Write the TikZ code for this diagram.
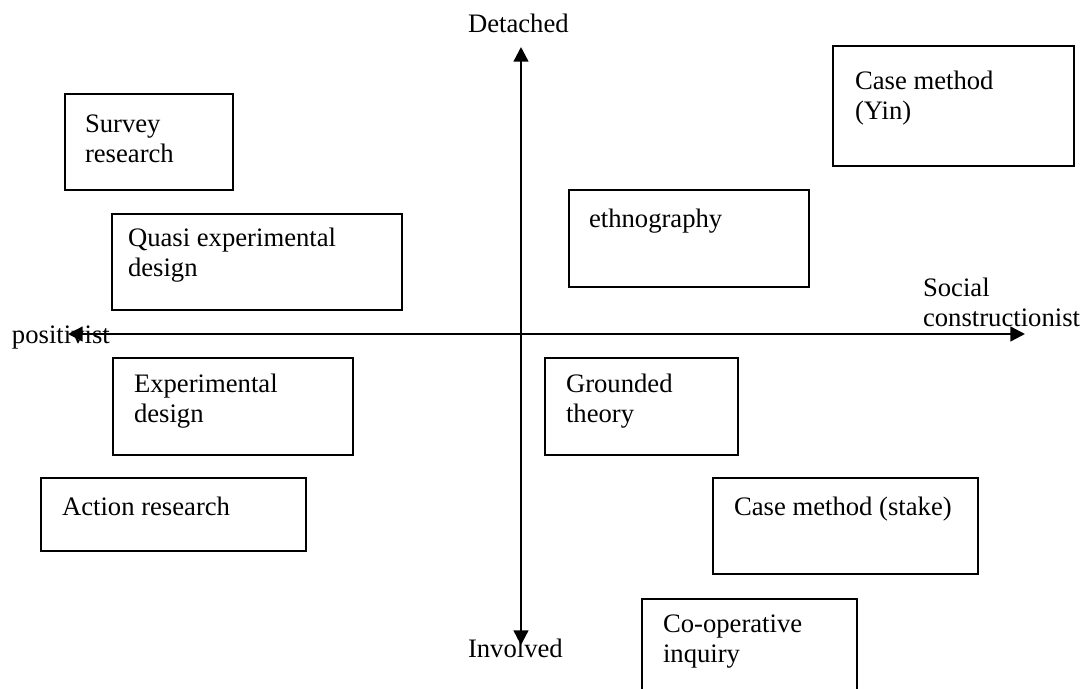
\documentclass[tikz,border=0pt]{standalone}
\usepackage{fontspec}
\setmainfont{Liberation Serif}
\usetikzlibrary{arrows.meta}
\begin{document}
\begin{tikzpicture}[x=0.75pt, y=-0.75pt,
  frame/.style={draw=black, line width=1.1pt},
  axis/.style={draw=black, line width=1.8pt,
    {Triangle[length=11pt,width=11pt]}-{Triangle[length=11pt,width=11pt]}},
  txt/.style={anchor=base west, inner sep=0pt, outer sep=0pt,
    font=\fontsize{20pt}{22.5pt}\selectfont},
]
\clip (0,0) rectangle (1086,689);
\fill[white] (0,0) rectangle (1086,689);

% method boxes
\draw[frame] (65,94) rectangle (233,190) coordinate (survey);
\draw[frame] (112,214) rectangle (402,310) coordinate (quasi);
\draw[frame] (113,358) rectangle (353,455) coordinate (exper);
\draw[frame] (41,478) rectangle (306,551) coordinate (action);
\draw[frame] (833,46) rectangle (1074,166) coordinate (yin);
\draw[frame] (569,190) rectangle (809,287) coordinate (ethno);
\draw[frame] (545,358) rectangle (738,455) coordinate (grounded);
\draw[frame] (713,478) rectangle (978,574) coordinate (stake);
\draw[frame] (642,599) rectangle (857,720) coordinate (coop);

% box texts
\node[txt] (surveyt)   at (85,132)  {\parbox[t]{200pt}{Survey\\research}};
\node[txt] (quasit)    at (128,246) {\parbox[t]{250pt}{Quasi experimental\\design}};
\node[txt] (expert)    at (134,392) {\parbox[t]{200pt}{Experimental\\design}};
\node[txt] (actiont)   at (62,515)  {Action research};
\node[txt] (yint)      at (855,89)  {\parbox[t]{200pt}{Case method\\(Yin)}};
\node[txt] (ethnot)    at (589,227) {ethnography};
\node[txt] (groundedt) at (566,392) {\parbox[t]{200pt}{Grounded\\theory}};
\node[txt] (staket)    at (734,515) {Case method (stake)};
\node[txt] (coopt)     at (663,632) {\parbox[t]{200pt}{Co-operative\\inquiry}};

% axes
\coordinate (top) at (521,47);
\coordinate (bottom) at (521,645);
\coordinate (left) at (68,334);
\coordinate (right) at (1025,334);
\draw[axis] (bottom) -- (top);
\draw[axis] (left) -- (right);

% axis labels
\node[txt] (detached) at (468,32)  {Detached};
\node[txt] (involved) at (468,657) {Involved};
\node[txt] (posit)    at (12,343)  {positivist};
\node[txt] (social)   at (923,296) {\parbox[t]{200pt}{Social\\constructionist}};
\end{tikzpicture}
\end{document}
